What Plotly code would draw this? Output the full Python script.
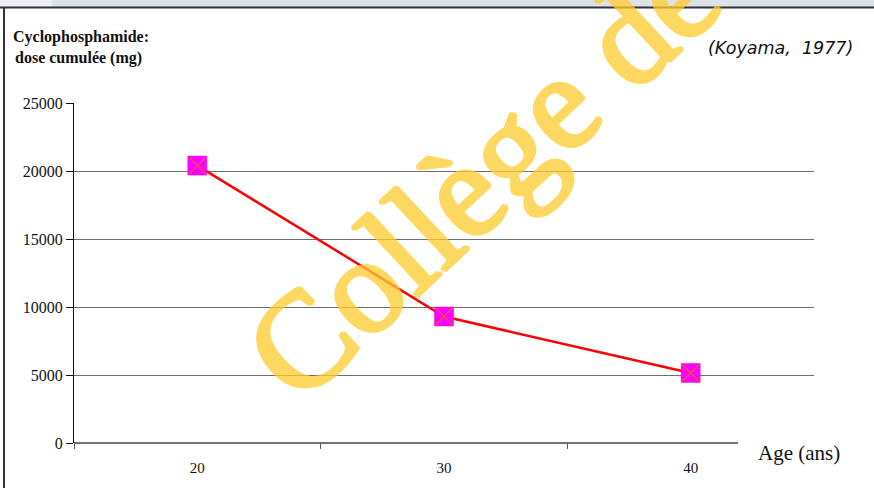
import plotly.graph_objects as go

# Data: cumulative cyclophosphamide dose by age
ages = [20, 30, 40]
dose_mg = [20400, 9300, 5150]
y_ticks = [0, 5000, 10000, 15000, 20000, 25000]
x_ticks = [20, 30, 40]

W, H = 874, 488
L, R, T, B = 74, 60, 103, 45
PW, PH = W - L - R, H - T - B


def px(x):
    return (x - L) / PW


def py(y):
    return (H - B - y) / PH


serif = "Liberation Serif, Times New Roman, serif"

fig = go.Figure()

fig.add_trace(go.Scatter(
    x=ages, y=dose_mg, mode="lines+markers",
    line=dict(color="#ff0000", width=2.5),
    marker=dict(symbol="square", size=19, color="#ff00ff",
                line=dict(color="#e000e0", width=0.5)),
    hoverinfo="x+y", showlegend=False,
))
fig.add_trace(go.Scatter(
    x=ages, y=dose_mg, mode="markers",
    marker=dict(symbol="x-thin-open", size=17,
                line=dict(color="#ff0000", width=1.2)),
    hoverinfo="skip", showlegend=False,
))

fig.update_layout(
    width=W, height=H,
    margin=dict(l=L, r=R, t=T, b=B),
    paper_bgcolor="white", plot_bgcolor="white",
    font=dict(family=serif, color="#111111", size=15),
    xaxis=dict(
        range=[15, 45], tickvals=x_ticks, ticktext=[str(v) for v in x_ticks],
        ticks="", showgrid=False, zeroline=False, showline=False,
        ticklabelstandoff=14,
        tickfont=dict(family=serif, size=15, color="#111111"),
        minor=dict(ticks="outside", tickvals=[15, 25, 35], ticklen=5,
                   tickcolor="#555555", tickwidth=1, showgrid=False),
    ),
    yaxis=dict(
        range=[0, 25000], tickvals=y_ticks, ticktext=[str(v) for v in y_ticks],
        ticks="outside", ticklen=7,
        tickcolor="#111111", tickwidth=1,
        showgrid=True, gridcolor="#6e6e6e", gridwidth=1,
        zeroline=False, showline=True, linecolor="#111111", linewidth=1,
        tickfont=dict(family=serif, size=16, color="#111111"),
    ),
)

shapes = [
    # window strip along the top edge
    dict(type="rect", xref="paper", yref="paper", x0=px(0), x1=px(W),
         y0=py(0), y1=py(7), fillcolor="#dde1ea", line=dict(width=0), layer="below"),
    dict(type="rect", xref="paper", yref="paper", x0=px(0), x1=px(52),
         y0=py(0), y1=py(7), fillcolor="#eceef3", line=dict(width=0), layer="below"),
    dict(type="line", xref="paper", yref="paper", x0=px(0), x1=px(W),
         y0=py(7.5), y1=py(7.5), line=dict(color="#333333", width=2)),
    dict(type="line", xref="paper", yref="paper", x0=px(4), x1=px(4),
         y0=py(7.5), y1=py(H), line=dict(color="#333333", width=2)),
    # category axis line
    dict(type="line", xref="paper", yref="paper", x0=0, x1=px(738),
         y0=0, y1=0, line=dict(color="#444444", width=1.5)),
]
fig.update_layout(shapes=shapes)

wm = "rgb(255,204,46)"
annotations = [
    dict(text="<b>Cyclophosphamide:</b>", xref="paper", yref="paper",
         x=px(11), y=py(37), xanchor="left", yanchor="middle", showarrow=False,
         font=dict(family=serif, size=16, color="#111111")),
    dict(text="<b>dose cumulée (mg)</b>", xref="paper", yref="paper",
         x=px(13), y=py(58), xanchor="left", yanchor="middle", showarrow=False,
         font=dict(family=serif, size=16, color="#111111")),
    dict(text="<i>(Koyama,\u00a0 1977)</i>", xref="paper", yref="paper",
         x=px(855), y=py(48), xanchor="right", yanchor="middle", showarrow=False,
         font=dict(family="DejaVu Sans, Verdana, sans-serif", size=17.5, color="#111111")),
    dict(text="Age (ans)", xref="paper", yref="paper",
         x=px(756), y=py(453), xanchor="left", yanchor="middle", showarrow=False,
         font=dict(family=serif, size=21, color="#111111")),
    # watermark
    dict(text="Collège de France", xref="paper", yref="paper",
         x=px(629), y=py(36), xanchor="center", yanchor="middle", showarrow=False,
         textangle=-43, opacity=0.75,
         font=dict(family=serif, size=136, color=wm,
                   shadow=(f"2px 0 0 {wm}, -2px 0 0 {wm}, 0 2px 0 {wm}, "
                           f"0 -2px 0 {wm}, 1.5px 1.5px 0 {wm}, -1.5px -1.5px 0 {wm}"))),
]
fig.update_layout(annotations=annotations)

fig.write_html("out.html")
